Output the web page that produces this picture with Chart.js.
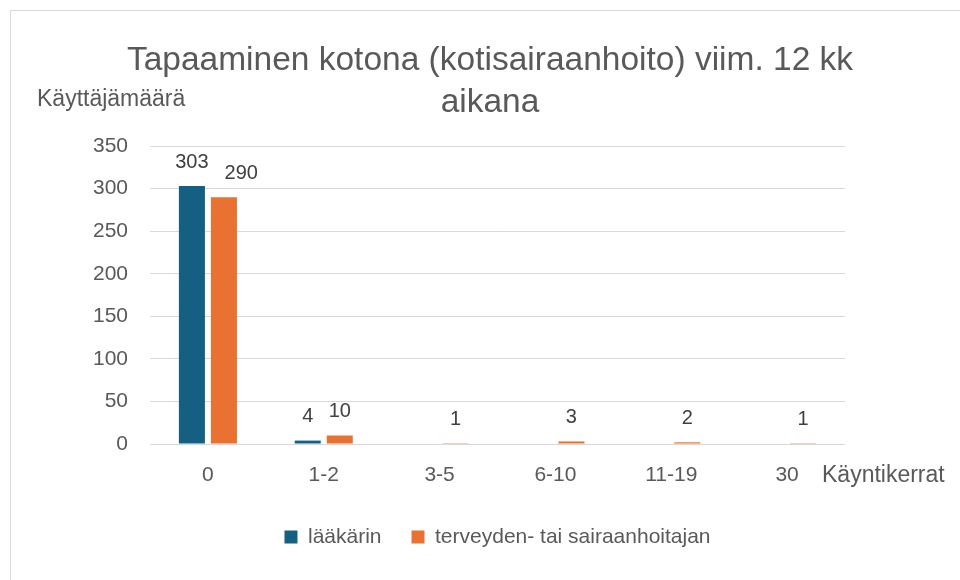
<!DOCTYPE html>
<html>
<head>
<meta charset="utf-8">
<script src="https://cdn.jsdelivr.net/npm/chart.js@4.4.1/dist/chart.umd.min.js"></script>
<style>
  body { margin: 0; overflow: hidden; background: #fff; }
  #wrap { position: absolute; left: 10px; top: 10px; width: 960px; height: 580px; border: 1px solid #d9d9d9; }
  #myChart1 { position: absolute; left: -1px; top: -1px; }
</style>
</head>
<body>
<div id="wrap"><canvas id="myChart1" width="960" height="570"></canvas></div>
<script>
let labels = ['0', '1-2', '3-5', '6-10', '11-19', '30'];
let laakarin = [303, 4, null, null, null, null];
let hoitajan = [290, 10, 1, 3, 2, 1];
let seriesNames = ['lääkärin', 'terveyden- tai sairaanhoitajan'];
let colorHex = ['#156082', '#E97132'];
let titleLines = ['Tapaaminen kotona (kotisairaanhoito) viim. 12 kk', 'aikana'];
let yTitle = 'Käyttäjämäärä';
let xTitle = 'Käyntikerrat';

const fontFam = '"Liberation Sans", Arial, sans-serif';

// value labels above bars (pushed right when they collide) + the two axis titles
const extraText = {
  id: 'extraText',
  afterDatasetsDraw(chart) {
    const c = chart.ctx;
    c.save();
    c.fillStyle = '#404040';
    c.font = '20px ' + fontFam;
    c.textAlign = 'left';
    c.textBaseline = 'middle';
    let boxes = [];
    chart.data.datasets.forEach((ds, i) => {
      chart.getDatasetMeta(i).data.forEach((bar, j) => {
        if (ds.data[j] == null) return;
        let txt = String(ds.data[j]);
        let w = c.measureText(txt).width;
        let x = bar.x - w / 2, y = bar.y - 24;
        boxes.forEach(b => {
          if (x < b.r + 10 && x + w > b.l - 10 && Math.abs(y - b.y) < 22) x = b.r + 16;
        });
        boxes.push({ l: x, r: x + w, y: y });
        c.fillText(txt, x, y);
      });
    });
    c.fillStyle = '#595959';
    c.font = '23px ' + fontFam;
    c.fillText(yTitle, 27, 90);
    c.fillText(xTitle, chart.chartArea.right - 23, chart.chartArea.bottom + 32);
    c.restore();
  }
};

let ctx = document.getElementById('myChart1').getContext('2d');
let myChart1 = new Chart(ctx, {
  type: 'bar',
  data: {
    labels: labels,
    datasets: [{
      label: seriesNames[0],
      data: laakarin,
      backgroundColor: colorHex[0]
    }, {
      label: seriesNames[1],
      data: hoitajan,
      backgroundColor: colorHex[1]
    }]
  },
  options: {
    responsive: false,
    animation: false,
    categoryPercentage: 0.553,
    barPercentage: 0.8125,
    layout: { padding: { left: 0, right: 0, top: 0, bottom: 22.5 } },
    scales: {
      x: {
        grid: { display: false, drawTicks: false },
        border: { display: false },
        ticks: { color: '#595959', font: { family: fontFam, size: 21 }, padding: 19 },
        afterFit: (s) => { s.height = 52.5; }
      },
      y: {
        min: 0,
        max: 350,
        grid: { color: '#d9d9d9', lineWidth: 1, drawTicks: false },
        border: { display: false },
        ticks: { stepSize: 50, color: '#595959', font: { family: fontFam, size: 21 }, padding: 22 },
        afterFit: (s) => { s.width = 140; }
      },
      y2: {
        position: 'right',
        grid: { display: false, drawTicks: false },
        border: { display: false },
        ticks: { display: false },
        afterFit: (s) => { s.width = 125; }
      }
    },
    plugins: {
      title: {
        display: true,
        text: titleLines,
        color: '#595959',
        font: { family: fontFam, size: 33.5, weight: 'normal', lineHeight: 1.27 },
        padding: { top: 29, bottom: 22 }
      },
      legend: {
        position: 'bottom',
        fullSize: false,
        labels: {
          boxWidth: 13,
          boxHeight: 13,
          padding: 30,
          color: '#595959',
          font: { family: fontFam, size: 21 }
        }
      },
      tooltip: { enabled: false }
    }
  },
  plugins: [extraText]
});
</script>
</body>
</html>
